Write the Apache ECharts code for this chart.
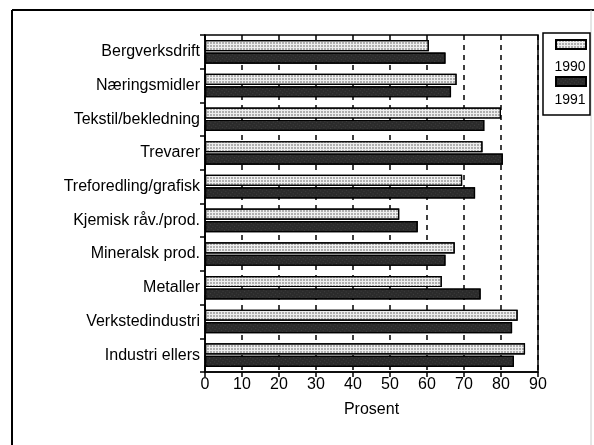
<!DOCTYPE html>
<html>
<head>
<meta charset="utf-8">
<script src="https://cdn.jsdelivr.net/npm/echarts@6/dist/echarts.min.js"></script>
<style>
  html, body { margin: 0; padding: 0; background: #fff; }
  #chart { width: 594px; height: 445px; }
</style>
</head>
<body>
<div id="chart"></div>
<script>
// kategorier, topp til bunn
const categories = [
  'Bergverksdrift', 'Næringsmidler', 'Tekstil/bekledning', 'Trevarer',
  'Treforedling/grafisk', 'Kjemisk råv./prod.', 'Mineralsk prod.',
  'Metaller', 'Verkstedindustri', 'Industri ellers'
]
const values1990 = [60.5, 68, 80, 75, 69.5, 52.5, 67.5, 64, 84.5, 86.5]
const values1991 = [65, 66.5, 75.5, 80.5, 73, 57.5, 65, 74.5, 83, 83.5]
const xTicks = [0, 10, 20, 30, 40, 50, 60, 70, 80, 90]

const font = '"Liberation Sans", Arial, sans-serif'

const chart = echarts.init(document.getElementById('chart'), null, { renderer: 'canvas' })

/** mønster for 1990: lys med prikker */
const decalLight = {
  symbol: 'circle',
  symbolSize: 0.8,
  color: 'rgba(0,0,0,0.6)',
  dashArrayX: [[2, 1]],
  dashArrayY: [2, 1],
  rotation: 0
}
/** mønster for 1991: mørk med lyse prikker */
const decalDark = {
  symbol: 'rect',
  symbolSize: 0.6,
  color: 'rgba(255,255,255,0.35)',
  dashArrayX: [[1, 2]],
  dashArrayY: [1, 2],
  rotation: 0.6
}

const option = {
  animation: false,
  backgroundColor: '#fff',
  grid: {
    left: 205,
    right: 56,
    top: 35,
    bottom: 73,
    show: true,
    borderColor: '#000',
    borderWidth: 1.5
  },
  legend: [
    {
      data: ['1990'],
      icon: 'rect',
      left: 555,
      top: 39,
      padding: 0,
      itemWidth: 30,
      itemHeight: 9,
      formatter: () => '',
      selectedMode: false
    },
    {
      data: ['1991'],
      icon: 'rect',
      left: 555,
      top: 76,
      padding: 0,
      itemWidth: 30,
      itemHeight: 9,
      formatter: () => '',
      selectedMode: false
    }
  ],
  xAxis: {
    type: 'value',
    min: xTicks[0],
    max: xTicks[xTicks.length - 1],
    interval: 10,
    name: 'Prosent',
    nameLocation: 'middle',
    nameGap: 30,
    nameTextStyle: { fontFamily: font, fontSize: 16, color: '#000' },
    axisLine: { show: true, lineStyle: { color: '#000', width: 1.5 } },
    axisTick: { show: true, length: 5, lineStyle: { color: '#000', width: 1.5 } },
    axisLabel: { fontFamily: font, fontSize: 16, color: '#000', margin: 5 },
    splitLine: {
      show: true,
      lineStyle: { color: '#000', width: 1.5, type: [5, 5] }
    }
  },
  yAxis: {
    type: 'category',
    data: categories,
    inverse: true,
    axisLine: { show: true, lineStyle: { color: '#000', width: 1.5 } },
    axisTick: { show: true, length: 5, lineStyle: { color: '#000', width: 1.5 } },
    axisLabel: { fontFamily: font, fontSize: 16, color: '#000', margin: 5 },
    splitLine: { show: false }
  },
  series: [
    {
      name: '1990',
      type: 'bar',
      data: values1990,
      barCategoryGap: '30%',
      barGap: '12%',
      itemStyle: { color: '#eee', borderColor: '#000', borderWidth: 1.2, decal: decalLight }
    },
    {
      name: '1991',
      type: 'bar',
      data: values1991,
      itemStyle: { color: '#2b2b2b', borderColor: '#000', borderWidth: 1.2, decal: decalDark }
    }
  ],
  graphic: [
    // ytre ramme
    { type: 'line', shape: { x1: 12, y1: 10, x2: 12, y2: 445 }, style: { stroke: '#000', lineWidth: 2 } },
    { type: 'line', shape: { x1: 12, y1: 10, x2: 594, y2: 10 }, style: { stroke: '#000', lineWidth: 2 } },
    { type: 'line', shape: { x1: 591, y1: 10, x2: 591, y2: 445 }, style: { stroke: '#ccc', lineWidth: 1 } },
    // legendeboks
    { type: 'rect', shape: { x: 543, y: 33, width: 47, height: 82 }, style: { fill: 'none', stroke: '#000', lineWidth: 1.5 } },
    { type: 'text', x: 570, y: 67, style: { text: '1990', font: '14px ' + font, fill: '#000', align: 'center', verticalAlign: 'middle' } },
    { type: 'text', x: 570, y: 100, style: { text: '1991', font: '14px ' + font, fill: '#000', align: 'center', verticalAlign: 'middle' } }
  ]
}

chart.setOption(option)
</script>
</body>
</html>
